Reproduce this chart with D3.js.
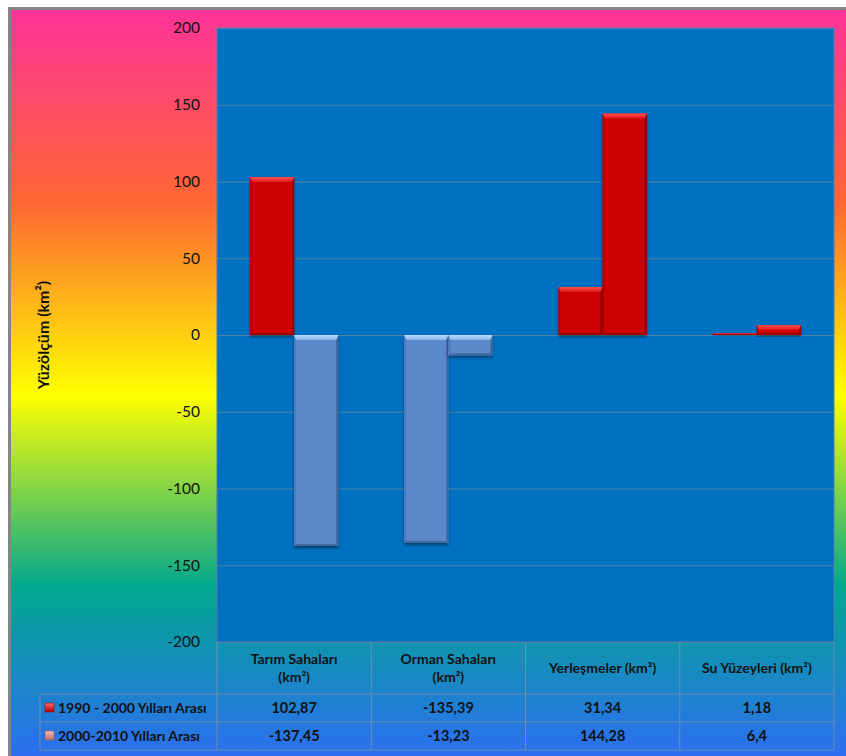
<!DOCTYPE html>
<html>
<head>
<meta charset="utf-8">
<script src="https://cdn.jsdelivr.net/npm/d3@7"></script>
<style>
  html, body { margin: 0; padding: 0; background: #fff; }
  svg { display: block; }
  text { font-family: Lato, "Open Sans", sans-serif; fill: #111; }
</style>
</head>
<body>
<svg id="chart" width="846" height="756"></svg>
<script>
// Land-cover change by category, two periods
const categories = ["Tarım Sahaları (km²)", "Orman Sahaları (km²)", "Yerleşmeler (km²)", "Su Yüzeyleri (km²)"];
const categoryLines = [["Tarım Sahaları", "(km²)"], ["Orman Sahaları", "(km²)"], ["Yerleşmeler (km²)"], ["Su Yüzeyleri (km²)"]];
const seriesNames = ["1990 - 2000 Yılları Arası", "2000-2010 Yılları Arası"];
const series1990 = [102.87, -135.39, 31.34, 1.18];
const series2000 = [-137.45, -13.23, 144.28, 6.4];
const yTicks = [-200, -150, -100, -50, 0, 50, 100, 150, 200];
const yTitle = "Yüzölçüm (km²)";

const seriesValues = [series1990, series2000];

const svg = d3.select("#chart");
const defs = svg.append("defs");

// Rainbow chart-area fill
const bg = defs.append("linearGradient").attr("id", "rainbow")
  .attr("x1", 0).attr("y1", 0).attr("x2", 0).attr("y2", 1);
[["0%", "#ff3399"], ["25%", "#ff6633"], ["50%", "#ffff00"], ["75%", "#01a78f"], ["100%", "#3366ff"]]
  .forEach(([o, c]) => bg.append("stop").attr("offset", o).attr("stop-color", c));

const shadow = defs.append("filter").attr("id", "shadow")
  .attr("x", "-20%").attr("y", "-20%").attr("width", "140%").attr("height", "140%");
shadow.append("feDropShadow").attr("dx", 0).attr("dy", 2).attr("stdDeviation", 1.6)
  .attr("flood-color", "#000").attr("flood-opacity", 0.45);

// Bevel highlight gradients
function vGrad(id, stops) {
  const g = defs.append("linearGradient").attr("id", id).attr("x1", 0).attr("y1", 0).attr("x2", 0).attr("y2", 1);
  stops.forEach(([o, c]) => g.append("stop").attr("offset", o).attr("stop-color", c));
}
vGrad("bevelRed", [["0%", "#ff5050"], ["100%", "#e01818"]]);
vGrad("bevelBlue", [["0%", "#b8dcff"], ["100%", "#86b4ea"]]);
vGrad("markRed", [["0%", "#ff6a6a"], ["100%", "#b00000"]]);
vGrad("markPink", [["0%", "#f4c0b8"], ["100%", "#c06a6a"]]);

const palette = {
  pos: { base: "#cc0000", top: "url(#bevelRed)", left: "#b30000", right: "#8c0000", bottom: "#9a0000" },
  neg: { base: "#5b89cc", top: "url(#bevelBlue)", left: "#4f7bbd", right: "#3d659f", bottom: "#41699f" }
};

// Frame and background
svg.append("rect").attr("x", 8).attr("y", 7).attr("width", 846).attr("height", 760).attr("fill", "#858585");
svg.append("rect").attr("x", 11).attr("y", 10).attr("width", 846).attr("height", 770).attr("fill", "url(#rainbow)");

const plot = { left: 217, right: 834, top: 28, bottom: 642 };

const x0 = d3.scaleBand().domain(categories).range([plot.left, plot.right]).paddingInner(0).paddingOuter(0);
const x1 = d3.scaleBand().domain([0, 1]).range([0, x0.bandwidth()]).paddingInner(0).paddingOuter(0.75);
const y = d3.scaleLinear().domain([-200, 200]).range([plot.bottom, plot.top]);

// Plot area
svg.append("rect").attr("x", plot.left).attr("y", plot.top)
  .attr("width", plot.right - plot.left).attr("height", plot.bottom - plot.top)
  .attr("fill", "#0070c0").attr("stroke", "#4d7ea6").attr("stroke-width", 1);

// Gridlines
svg.append("g").attr("transform", `translate(${plot.left},0)`)
  .call(d3.axisLeft(y).tickValues(yTicks).tickSize(-(plot.right - plot.left)).tickFormat(""))
  .call(g => g.select(".domain").remove())
  .call(g => g.selectAll("line").attr("stroke", "#5282a8").attr("stroke-width", 1.2));

// Y axis labels (plain hyphen for negatives)
svg.append("g").attr("transform", `translate(${plot.left},0)`)
  .call(d3.axisLeft(y).tickValues(yTicks).tickSize(0).tickPadding(17).tickFormat(v => String(v)))
  .call(g => g.select(".domain").remove())
  .call(g => g.selectAll("text").attr("font-size", 15.5).attr("fill", "#1a1a1a")
    .style("font-family", "Lato, sans-serif"));

svg.append("text")
  .attr("transform", `translate(49,${y(0)}) rotate(-90)`)
  .attr("text-anchor", "middle").attr("font-size", 16).attr("font-weight", "bold")
  .text(yTitle);

// Bars with bevelled edges
const bars = [];
categories.forEach((c, i) => seriesValues.forEach((vals, s) => bars.push({ c, s, v: vals[i] })));

const barG = svg.append("g");
bars.forEach(d => {
  const x = x0(d.c) + x1(d.s);
  const w = x1.bandwidth();
  const yTop = y(Math.max(0, d.v));
  const yBot = y(Math.min(0, d.v));
  const h = yBot - yTop;
  const col = d.v >= 0 ? palette.pos : palette.neg;
  const g = barG.append("g");
  g.append("rect").attr("x", x).attr("y", yTop).attr("width", w).attr("height", h)
    .attr("fill", col.base).attr("filter", "url(#shadow)");
  const b = Math.min(5, h / 2);
  const side = Math.min(2, h / 2);
  // left edge
  g.append("path").attr("d", `M${x},${yTop}L${x + side},${yTop + b}L${x + side},${yBot - side}L${x},${yBot}Z`).attr("fill", col.left);
  // right edge
  g.append("path").attr("d", `M${x + w},${yTop}L${x + w - side},${yTop + b}L${x + w - side},${yBot - side}L${x + w},${yBot}Z`).attr("fill", col.right);
  // bottom edge
  g.append("path").attr("d", `M${x},${yBot}L${x + side},${yBot - side}L${x + w - side},${yBot - side}L${x + w},${yBot}Z`).attr("fill", col.bottom);
  // top bevel
  g.append("path").attr("d", `M${x},${yTop}L${x + w},${yTop}L${x + w - side},${yTop + b}L${x + side},${yTop + b}Z`).attr("fill", col.top);
});

// Data table
const tableTop = plot.bottom, headerBottom = 694, row1 = 722, row2 = 750, tableLeft = 40;
const tbl = svg.append("g").attr("stroke", "#6d8fae").attr("stroke-width", 1).attr("fill", "none");
const colEdges = categories.map(c => x0(c)).concat([plot.right]);
colEdges.forEach(xv => tbl.append("line").attr("x1", xv).attr("x2", xv).attr("y1", tableTop).attr("y2", row2));
tbl.append("line").attr("x1", tableLeft).attr("x2", tableLeft).attr("y1", headerBottom).attr("y2", row2);
[headerBottom, row1, row2].forEach(yy => tbl.append("line").attr("x1", tableLeft).attr("x2", plot.right).attr("y1", yy).attr("y2", yy));

// Column headers
categories.forEach((c, i) => {
  const lines = categoryLines[i];
  const cx = x0(c) + x0.bandwidth() / 2;
  const cy = (tableTop + headerBottom) / 2;
  const lh = 18;
  const t = svg.append("text").attr("text-anchor", "middle").attr("font-size", 14).attr("font-weight", "bold");
  lines.forEach((ln, k) => {
    t.append("tspan").attr("x", cx)
      .attr("y", cy + (k - (lines.length - 1) / 2) * lh + 5)
      .text(ln);
  });
});

// Value rows with legend keys
const fmt = v => String(v).replace(".", ",");
const rowMids = [(headerBottom + row1) / 2, (row1 + row2) / 2];
seriesValues.forEach((vals, s) => {
  const ym = rowMids[s];
  svg.append("rect").attr("x", 45).attr("y", ym - 5).attr("width", 9).attr("height", 9)
    .attr("fill", s === 0 ? "url(#markRed)" : "url(#markPink)")
    .attr("stroke", s === 0 ? "#7a1010" : "#9a5a5a").attr("stroke-width", 0.6);
  svg.append("text").attr("x", 58).attr("y", ym + 5).attr("font-size", 14).attr("font-weight", "bold")
    .text(seriesNames[s]);
  vals.forEach((v, i) => {
    svg.append("text").attr("x", x0(categories[i]) + x0.bandwidth() / 2).attr("y", ym + 5)
      .attr("text-anchor", "middle").attr("font-size", 14.5).attr("font-weight", "bold")
      .text(fmt(v));
  });
});
</script>
</body>
</html>
